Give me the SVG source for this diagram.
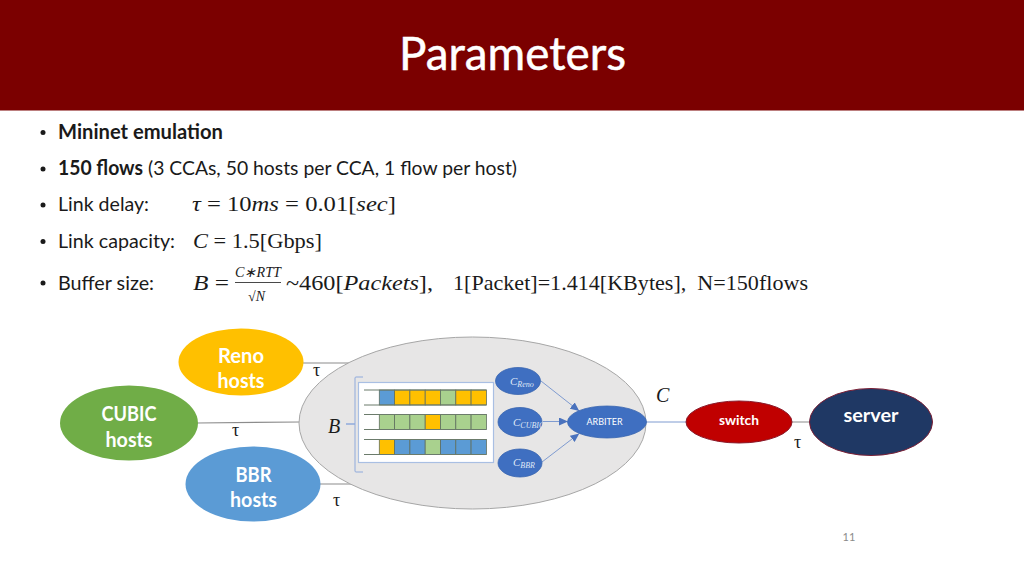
<svg xmlns="http://www.w3.org/2000/svg" width="1024" height="576" viewBox="0 0 1024 576">
<style>
.s{font-family:Lato,"Liberation Sans",sans-serif;fill:#1a1a1a;font-size:20px}
.b{font-weight:700}
.m{font-family:"Liberation Serif","Times New Roman",serif;fill:#1a1a1a;font-size:22px}
.i{font-style:italic}
.w{font-family:Lato,"Liberation Sans",sans-serif;fill:#fff;font-weight:700;font-size:20px;text-anchor:middle}
.c{font-family:"Liberation Serif","Times New Roman",serif;font-style:italic;fill:#dfe7f6;font-size:11px}
.sub{font-size:8px}
.l{stroke:#8c8c8c;stroke-width:1.2;fill:none}
.a{stroke:#7f9bd0;stroke-width:1;fill:none}
.n{fill:#3f6fc1;stroke:#3a66b0;stroke-width:.8}
.cell{stroke:#5f6f5f;stroke-width:.8}
.y{fill:#ffc000}.g{fill:#a9d18e}.u{fill:#5b9bd5}.e{fill:#fff}
.rail{stroke:#6b7b6b;stroke-width:1;fill:none}
</style>
<defs>
<marker id="arr" markerWidth="9" markerHeight="8" refX="8" refY="4" orient="auto" markerUnits="userSpaceOnUse"><path d="M0 0L9 4L0 8Z" fill="#4a72bd"/></marker>
</defs>
<rect width="1024" height="110.500" fill="#7b0000"/>
<text x="512.500" y="70" text-anchor="middle" font-family="Lato,Liberation Sans,sans-serif" font-size="46" fill="#fff" textLength="227" lengthAdjust="spacingAndGlyphs" stroke="#fff" stroke-width=".5">Parameters</text>

<g id="bullets">
<circle cx="43" cy="132.500" r="2.500" fill="#1a1a1a"/><circle cx="43" cy="169" r="2.500" fill="#1a1a1a"/><circle cx="43" cy="205" r="2.500" fill="#1a1a1a"/><circle cx="43" cy="241.500" r="2.500" fill="#1a1a1a"/><circle cx="43" cy="283" r="2.500" fill="#1a1a1a"/>
<text class="s b" x="58" y="139" textLength="165" lengthAdjust="spacingAndGlyphs">Mininet emulation</text>
<text class="s b" x="58" y="175" textLength="85" lengthAdjust="spacingAndGlyphs">150 flows</text>
<text class="s" x="148" y="175" textLength="369" lengthAdjust="spacingAndGlyphs">(3 CCAs, 50 hosts per CCA, 1 flow per host)</text>
<text class="s" x="58" y="211" textLength="91" lengthAdjust="spacingAndGlyphs">Link delay:</text>
<text class="s" x="58" y="248" textLength="117" lengthAdjust="spacingAndGlyphs">Link capacity:</text>
<text class="s" x="58" y="290" textLength="96" lengthAdjust="spacingAndGlyphs">Buffer size:</text>
<text class="m" x="192" y="211" textLength="204" lengthAdjust="spacingAndGlyphs" xml:space="preserve"><tspan class="i">τ</tspan> = 10<tspan class="i">ms</tspan> = 0.01[<tspan class="i">sec</tspan>]</text>
<text class="m" x="193" y="248" textLength="129" lengthAdjust="spacingAndGlyphs" xml:space="preserve"><tspan class="i">C</tspan> = 1.5[Gbps]</text>
<text class="m" x="193" y="290" textLength="36" lengthAdjust="spacingAndGlyphs" xml:space="preserve"><tspan class="i">B</tspan> =</text>
<text class="m i" x="235" y="277" style="font-size:14px" textLength="46" lengthAdjust="spacingAndGlyphs">C∗RTT</text>
<line x1="235" y1="282.500" x2="281" y2="282.500" stroke="#1a1a1a" stroke-width=".8"/>
<text class="m" x="248" y="301" style="font-size:14px">√<tspan class="i">N</tspan></text>
<text class="m" x="286" y="290" textLength="147" lengthAdjust="spacingAndGlyphs" xml:space="preserve">~460[<tspan class="i">Packets</tspan>],</text>
<text class="m" x="453" y="290" textLength="355" lengthAdjust="spacingAndGlyphs" xml:space="preserve">1[Packet]=1.414[KBytes],  N=150flows</text>
</g>

<g id="connectors">
<path class="l" d="M303 363H352M197 423L300 422M320 484H362M792 422H810"/>
</g>

<g id="router"><ellipse cx="472.500" cy="423" rx="173.500" ry="86" fill="#e7e6e6" stroke="#a6a6a6" stroke-width="1"/></g>

<g id="buffer">
<path d="M363 377H356Q355 377 355 378V424H346H355V471Q355 472 356 472H363" fill="none" stroke="#8faadc" stroke-width="1"/>
<rect x="358.500" y="382.500" width="135" height="80" fill="#fff" stroke="#a9bfe3" stroke-width="1.200"/>
<g id="queue1">
<rect class="e" x="364" y="390" width="15" height="15"/>
<rect class="cell u" x="379.300" y="390" width="15.300" height="15"/><rect class="cell y" x="394.600" y="390" width="15.300" height="15"/><rect class="cell y" x="409.900" y="390" width="15.300" height="15"/><rect class="cell y" x="425.200" y="390" width="15.300" height="15"/><rect class="cell g" x="440.500" y="390" width="15.300" height="15"/><rect class="cell y" x="455.800" y="390" width="15.300" height="15"/><rect class="cell y" x="471.100" y="390" width="15.300" height="15"/>
<path class="rail" d="M364 390H486.400M364 405H486.400"/>
</g>
<g id="queue2">
<rect class="e" x="364" y="414.500" width="15" height="15"/>
<rect class="cell g" x="379.300" y="414.500" width="15.300" height="15"/><rect class="cell g" x="394.600" y="414.500" width="15.300" height="15"/><rect class="cell g" x="409.900" y="414.500" width="15.300" height="15"/><rect class="cell y" x="425.200" y="414.500" width="15.300" height="15"/><rect class="cell g" x="440.500" y="414.500" width="15.300" height="15"/><rect class="cell g" x="455.800" y="414.500" width="15.300" height="15"/><rect class="cell g" x="471.100" y="414.500" width="15.300" height="15"/>
<path class="rail" d="M364 414.500H486.400M364 429.500H486.400"/>
</g>
<g id="queue3">
<rect class="e" x="364" y="439.500" width="15" height="15"/>
<rect class="cell y" x="379.300" y="439.500" width="15.300" height="15"/><rect class="cell u" x="394.600" y="439.500" width="15.300" height="15"/><rect class="cell u" x="409.900" y="439.500" width="15.300" height="15"/><rect class="cell g" x="425.200" y="439.500" width="15.300" height="15"/><rect class="cell u" x="440.500" y="439.500" width="15.300" height="15"/><rect class="cell u" x="455.800" y="439.500" width="15.300" height="15"/><rect class="cell u" x="471.100" y="439.500" width="15.300" height="15"/>
<path class="rail" d="M364 439.500H486.400M364 454.500H486.400"/>
</g>
</g>

<g id="node-reno"><ellipse cx="241" cy="362" rx="62.500" ry="33.500" fill="#ffc000"/><text class="w" x="241" y="363" textLength="46" lengthAdjust="spacingAndGlyphs">Reno</text><text class="w" x="241" y="388" textLength="47" lengthAdjust="spacingAndGlyphs">hosts</text></g>
<g id="node-cubic"><ellipse cx="129" cy="423" rx="69" ry="37.500" fill="#70ad47"/><text class="w" x="129" y="421" textLength="55" lengthAdjust="spacingAndGlyphs">CUBIC</text><text class="w" x="129" y="447" textLength="47" lengthAdjust="spacingAndGlyphs">hosts</text></g>
<g id="node-bbr"><ellipse cx="253" cy="484" rx="67.500" ry="37.500" fill="#5b9bd5"/><text class="w" x="253.500" y="482" textLength="36" lengthAdjust="spacingAndGlyphs">BBR</text><text class="w" x="253.500" y="507" textLength="47" lengthAdjust="spacingAndGlyphs">hosts</text></g>

<g id="arbiter-links">
<line class="a" x1="541" y1="381" x2="578.500" y2="410.500" marker-end="url(#arr)"/>
<line class="a" x1="543" y1="421.500" x2="567" y2="421.500" marker-end="url(#arr)"/>
<line class="a" x1="542" y1="462" x2="578.500" y2="434" marker-end="url(#arr)"/>
<line class="a" x1="646" y1="422" x2="686" y2="422"/>
</g>
<g id="node-creno"><ellipse class="n" cx="518" cy="381" rx="22.500" ry="13.500"/><text class="c" x="510" y="385">C<tspan class="sub" dy="2">Reno</tspan></text></g>
<g id="node-ccubic"><ellipse class="n" cx="520" cy="422" rx="22" ry="14.500"/><text class="c" x="513" y="426">C<tspan class="sub" dy="2">CUBIC</tspan></text></g>
<g id="node-cbbr"><ellipse class="n" cx="520" cy="463" rx="22" ry="14"/><text class="c" x="513" y="466">C<tspan class="sub" dy="2">BBR</tspan></text></g>
<g id="node-arbiter"><ellipse class="n" cx="607" cy="422" rx="39.500" ry="16"/><text x="604.500" y="425" text-anchor="middle" font-family="Lato,Liberation Sans,sans-serif" font-size="10" fill="#fff" textLength="36" lengthAdjust="spacingAndGlyphs">ARBITER</text></g>
<g id="node-switch"><ellipse cx="739" cy="422" rx="53" ry="21" fill="#c00000" stroke="#8a1a2a" stroke-width="1"/><text x="739" y="425" text-anchor="middle" font-family="Lato,Liberation Sans,sans-serif" font-size="13" font-weight="700" fill="#fff" textLength="40" lengthAdjust="spacingAndGlyphs">switch</text></g>
<g id="node-server"><ellipse cx="871" cy="422" rx="61.500" ry="33.500" fill="#1f3864" stroke="#7a1f35" stroke-width="1"/><text x="871" y="422" text-anchor="middle" font-family="Lato,Liberation Sans,sans-serif" font-size="19" font-weight="700" fill="#fff" textLength="55" lengthAdjust="spacingAndGlyphs">server</text></g>

<g id="labels">
<text class="m" x="313" y="376" style="font-size:18px">τ</text>
<text class="m" x="232" y="436" style="font-size:18px">τ</text>
<text class="m" x="333" y="506" style="font-size:18px">τ</text>
<text class="m" x="794" y="448" style="font-size:18px">τ</text>
<text class="m i" x="656" y="402" style="font-size:20px">C</text>
<text class="m i" x="328" y="433" style="font-size:20px">B</text>
<text x="849" y="541" text-anchor="middle" font-family="Lato,Liberation Sans,sans-serif" font-size="11" fill="#8a8a8a">11</text>
</g>
</svg>
